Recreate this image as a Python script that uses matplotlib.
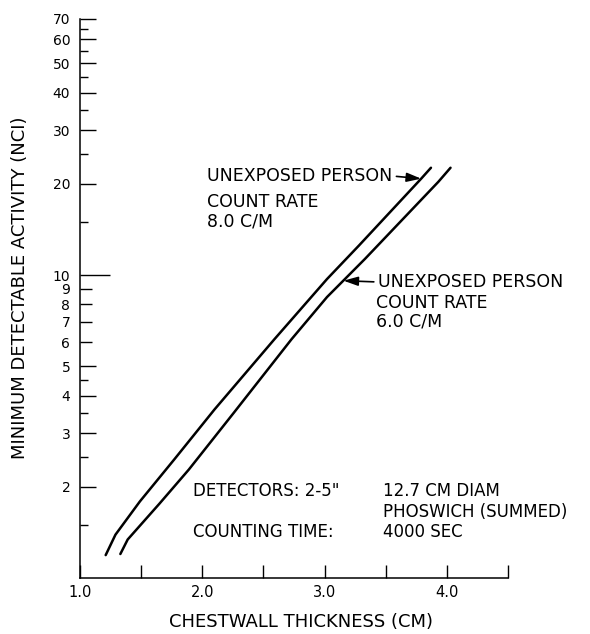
import matplotlib
matplotlib.use('Agg')
import matplotlib.pyplot as plt
from matplotlib.ticker import FixedLocator, FuncFormatter, NullFormatter

# curves: chestwall thickness (cm) vs minimum detectable activity (nCi)
thick_8cpm = [1.21, 1.29, 1.49, 1.77, 2.10, 2.59, 3.02, 3.28, 3.79, 3.87]
mda_8cpm = [1.19, 1.39, 1.79, 2.46, 3.60, 6.14, 9.70, 12.5, 20.8, 22.6]
thick_6cpm = [1.33, 1.39, 1.65, 1.89, 2.26, 2.73, 3.02, 3.33, 3.93, 4.03]
mda_6cpm = [1.20, 1.34, 1.76, 2.28, 3.52, 6.14, 8.46, 11.3, 20.3, 22.6]

x_major = [1.0, 2.0, 3.0, 4.0]
x_minor = [1.5, 2.5, 3.5, 4.5]
y_major = [2, 3, 4, 5, 6, 7, 8, 9, 10, 20, 30, 40, 50, 60, 70]
y_minor = [1.5, 2.5, 3.5, 4.5, 15, 25, 35, 45, 55, 65]

W, H = 590, 634
plt.rcParams['font.family'] = ['DejaVu Sans']

fig = plt.figure(figsize=(W / 100, H / 100), dpi=100)
ax = fig.add_axes([80 / W, 56 / H, 428 / W, 559 / H])
ax.set_yscale('log')
ax.set_xlim(1.0, 4.5)
ax.set_ylim(1, 70)

ax.plot(thick_8cpm, mda_8cpm, color='black', lw=1.8, solid_capstyle='round')
ax.plot(thick_6cpm, mda_6cpm, color='black', lw=1.8, solid_capstyle='round')

for side in ['top', 'right']:
    ax.spines[side].set_visible(False)
for side in ['left', 'bottom']:
    ax.spines[side].set_linewidth(1.1)

ax.xaxis.set_major_locator(FixedLocator(x_major))
ax.xaxis.set_minor_locator(FixedLocator(x_minor))
ax.xaxis.set_major_formatter(FuncFormatter(lambda v, p: f'{v:.1f}'))
ax.xaxis.set_minor_formatter(NullFormatter())
ax.tick_params(axis='x', which='both', direction='in', length=9.4, width=1.0,
               pad=5, labelsize=10.5)

ax.yaxis.set_major_locator(FixedLocator(y_major))
ax.yaxis.set_minor_locator(FixedLocator(y_minor))
ax.yaxis.set_major_formatter(FuncFormatter(lambda v, p: f'{v:g}'))
ax.yaxis.set_minor_formatter(NullFormatter())
ax.tick_params(axis='y', which='major', direction='in', length=11.5, width=1.0,
               pad=7, labelsize=10)
ax.tick_params(axis='y', which='minor', direction='in', length=5.8, width=1.0)

# long tick at 10, shorter ones at 6-9
for tick, val in zip(ax.yaxis.get_major_ticks(), y_major):
    if val == 10:
        tick.tick1line.set_markersize(21.6)
    elif 6 <= val <= 9:
        tick.tick1line.set_markersize(8.6)

ax.set_xlabel('CHESTWALL THICKNESS (CM)', fontsize=13, va='center')
ax.xaxis.set_label_coords(0.516, -0.079)
ax.set_ylabel('MINIMUM DETECTABLE ACTIVITY (NCI)', fontsize=13, va='center')
ax.yaxis.set_label_coords(-0.140, 0.519)

arrow = dict(arrowstyle='-|>,head_length=0.7,head_width=0.22', color='black',
             lw=1.2, shrinkA=1, shrinkB=0)

ax.annotate('UNEXPOSED PERSON', xy=(3.79, 20.8), xycoords='data',
            xytext=(207, H - 181), textcoords='figure pixels',
            ha='left', va='baseline', fontsize=12.5,
            arrowprops=dict(arrow, relpos=(1, 0.5)))
fig.text(207 / W, 1 - 207 / H, 'COUNT RATE', ha='left', va='baseline', fontsize=12.5)
fig.text(207 / W, 1 - 226 / H, '8.0 C/M', ha='left', va='baseline', fontsize=12.5)

ax.annotate('UNEXPOSED PERSON', xy=(3.154, 9.58), xycoords='data',
            xytext=(378, H - 287), textcoords='figure pixels',
            ha='left', va='baseline', fontsize=12.5,
            arrowprops=dict(arrow, relpos=(0, 0.5)))
fig.text(376 / W, 1 - 308 / H, 'COUNT RATE', ha='left', va='baseline', fontsize=12.5)
fig.text(376 / W, 1 - 327 / H, '6.0 C/M', ha='left', va='baseline', fontsize=12.5)

fig.text(193 / W, 1 - 496 / H, 'DETECTORS: 2-5"', ha='left', va='baseline', fontsize=12)
fig.text(383 / W, 1 - 496 / H, '12.7 CM DIAM', ha='left', va='baseline', fontsize=12)
fig.text(383 / W, 1 - 517 / H, 'PHOSWICH (SUMMED)', ha='left', va='baseline', fontsize=12)
fig.text(193 / W, 1 - 537 / H, 'COUNTING TIME:', ha='left', va='baseline', fontsize=12)
fig.text(383 / W, 1 - 537 / H, '4000 SEC', ha='left', va='baseline', fontsize=12)

fig.savefig('out.png', dpi=100)
